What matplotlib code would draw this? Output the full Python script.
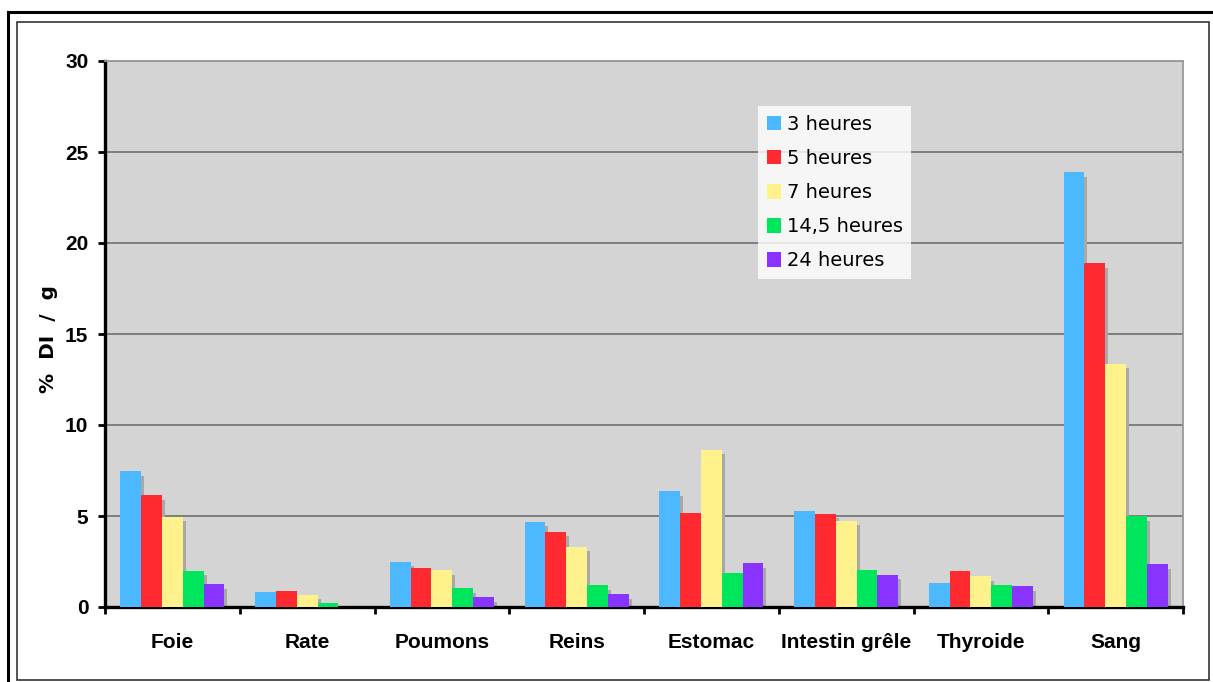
import matplotlib
matplotlib.use("Agg")
import matplotlib.pyplot as plt
import numpy as np
from matplotlib.patches import Rectangle
from matplotlib.lines import Line2D
from matplotlib.transforms import offset_copy

# Organ uptake (% injected dose per gram) at each time point
organs = ["Foie", "Rate", "Poumons", "Reins", "Estomac", "Intestin grêle", "Thyroide", "Sang"]
series_labels = ["3 heures", "5 heures", "7 heures", "14,5 heures", "24 heures"]
h3 = [7.47, 0.82, 2.49, 4.69, 6.36, 5.29, 1.34, 23.9]
h5 = [6.15, 0.88, 2.13, 4.14, 5.15, 5.13, 1.96, 18.9]
h7 = [4.96, 0.66, 2.03, 3.31, 8.64, 4.73, 1.69, 13.37]
h14_5 = [1.99, 0.24, 1.03, 1.19, 1.87, 2.03, 1.19, 5.0]
h24 = [1.26, 0.0, 0.53, 0.71, 2.40, 1.77, 1.14, 2.36]
series = [h3, h5, h7, h14_5, h24]
colors = ["#4cb8ff", "#ff2a30", "#fff28c", "#00e65c", "#8833ff"]
y_ticks = [0, 5, 10, 15, 20, 25, 30]

W, H, DPI = 1213, 682, 100
fig = plt.figure(figsize=(W / DPI, H / DPI), dpi=DPI)
fig.patch.set_facecolor("white")

def fx(px):
    return px / W

def fy(py):
    return 1 - py / H

# page frame: black outer lines and dark inner rectangle
fig.add_artist(Line2D([fx(8), 1.0], [fy(12), fy(12)], color="black", lw=2.2, transform=fig.transFigure))
fig.add_artist(Line2D([fx(8), fx(8)], [fy(12), 0.0], color="black", lw=2.2, transform=fig.transFigure))
fig.add_artist(Rectangle((fx(17), fy(680)), fx(1209) - fx(17), fy(22) - fy(680),
                         transform=fig.transFigure, fill=False, edgecolor="#333333", lw=1.2))

ax = fig.add_axes([fx(105), fy(607), fx(1183) - fx(105), fy(61) - fy(607)])
ax.set_facecolor("#d4d4d4")

n = len(organs)
k = len(series)
x = np.arange(n)
bw = 0.154
offsets = (np.arange(k) - (k - 1) / 2) * bw

# drop shadows first, then the bars on top
shadow_tr = offset_copy(ax.transData, fig=fig, x=3, y=-4.5, units="dots")
for i, vals in enumerate(series):
    ax.bar(x + offsets[i], vals, width=bw, color="#a8a8a8", transform=shadow_tr, zorder=2, linewidth=0)
for i, vals in enumerate(series):
    ax.bar(x + offsets[i], vals, width=bw, color=colors[i], zorder=3, linewidth=0,
           label=series_labels[i])

ax.set_xlim(-0.5, n - 0.5)
ax.set_ylim(0, 30)
ax.set_yticks(y_ticks)
ax.yaxis.grid(True, color="#666666", lw=1.1, zorder=1)
ax.set_axisbelow(True)

ax.set_xticks(x)
ax.set_xticklabels(organs)
ax.set_xticks(np.arange(n + 1) - 0.5, minor=True)
ax.tick_params(axis="x", which="major", length=0, pad=19)
ax.tick_params(axis="x", which="minor", length=5, width=2, direction="out", color="black")
ax.tick_params(axis="y", length=5, width=2, direction="out", pad=7)
for lab in ax.get_xticklabels() + ax.get_yticklabels():
    lab.set_fontfamily("Liberation Sans")
    lab.set_fontweight("bold")
    lab.set_fontsize(15)

for s in ["left", "bottom"]:
    ax.spines[s].set_color("black")
    ax.spines[s].set_linewidth(2.4)
for s in ["top", "right"]:
    ax.spines[s].set_color("#999999")
    ax.spines[s].set_linewidth(1.3)

fig.text(fx(49), fy(339), "%  DI  /  g", rotation=90, ha="center", va="center",
         fontsize=14.5, fontweight="bold", family="DejaVu Sans")

leg = ax.legend(loc="upper left", bbox_to_anchor=(fx(758), fy(106)), bbox_transform=fig.transFigure,
                frameon=True, fancybox=False, handlelength=0.72, handleheight=0.77,
                handletextpad=0.3, labelspacing=0.78, borderpad=0.45, borderaxespad=0,
                prop={"family": "DejaVu Sans", "size": 14})
leg.get_frame().set_facecolor("white")
leg.get_frame().set_edgecolor("white")
leg.get_frame().set_linewidth(0)
leg.set_zorder(5)

fig.savefig("out.png", dpi=DPI)
